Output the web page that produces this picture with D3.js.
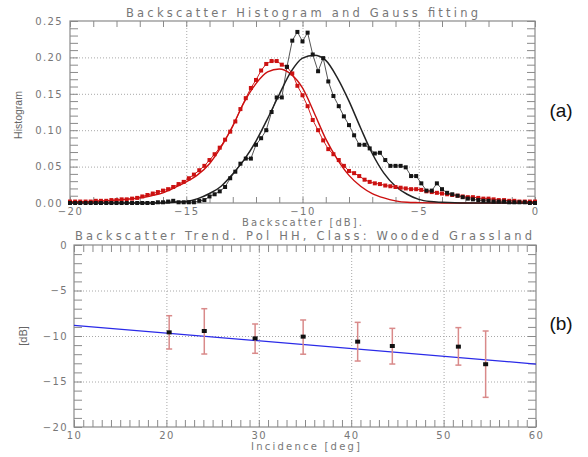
<!DOCTYPE html>
<html><head><meta charset="utf-8">
<script src="https://cdn.jsdelivr.net/npm/d3@7"></script>
<style>body{margin:0;background:#fff}</style>
</head><body><svg id="c" width="588" height="457"></svg>
<script>
// ---------- Panel (a): histogram data ----------
const binCenters = [-20.00,-19.78,-19.56,-19.33,-19.11,-18.89,-18.67,-18.44,-18.22,-18.00,
 -17.78,-17.56,-17.33,-17.11,-16.89,-16.67,-16.44,-16.22,-16.00,-15.78,
 -15.56,-15.33,-15.11,-14.89,-14.67,-14.44,-14.22,-14.00,-13.78,-13.56,
 -13.33,-13.11,-12.89,-12.67,-12.44,-12.22,-12.00,-11.78,-11.56,-11.33,
 -11.11,-10.89,-10.67,-10.44,-10.22,-10.00,-9.78,-9.56,-9.33,-9.11,
 -8.89,-8.67,-8.44,-8.22,-8.00,-7.78,-7.56,-7.33,-7.11,-6.89,
 -6.67,-6.44,-6.22,-6.00,-5.78,-5.56,-5.33,-5.11,-4.89,-4.67,
 -4.44,-4.22,-4.00,-3.78,-3.56,-3.33,-3.11,-2.89,-2.67,-2.44,
 -2.22,-2.00,-1.78,-1.56,-1.33,-1.11,-0.89,-0.67,-0.44,-0.22,
 0.00];
const redHist = [0.002,0.002,0.002,0.002,0.002,0.003,0.003,0.003,0.004,0.004,
 0.005,0.005,0.006,0.007,0.009,0.011,0.013,0.015,0.017,0.019,
 0.022,0.026,0.029,0.034,0.039,0.045,0.051,0.059,0.067,0.076,
 0.087,0.098,0.112,0.129,0.144,0.158,0.169,0.182,0.191,0.195,
 0.195,0.190,0.187,0.178,0.161,0.148,0.133,0.114,0.100,0.086,
 0.074,0.067,0.059,0.051,0.044,0.041,0.037,0.032,0.029,0.027,
 0.026,0.024,0.023,0.022,0.021,0.020,0.019,0.019,0.018,0.016,
 0.015,0.014,0.013,0.012,0.011,0.010,0.009,0.008,0.008,0.007,
 0.006,0.006,0.005,0.004,0.004,0.003,0.003,0.002,0.002,0.002,
 0.002];
const blackHist = [0,0,0,0,0,0,0,0,0,0,
 0,0,0,0,0,0,0,0.001,0.001,0.002,
 0.003,0.001,0.001,0.001,0.001,0.003,0.004,0.009,0.012,0.016,
 0.022,0.034,0.043,0.054,0.061,0.061,0.080,0.089,0.100,0.125,
 0.145,0.145,0.187,0.223,0.235,0.222,0.234,0.204,0.181,0.199,
 0.167,0.147,0.133,0.119,0.107,0.093,0.080,0.080,0.075,0.068,
 0.069,0.059,0.051,0.051,0.051,0.049,0.037,0.037,0.027,0.017,
 0.017,0.027,0.019,0.014,0.012,0.010,0.008,0.006,0.005,0.004,
 0.003,0.003,0.002,0.002,0.002,0.001,0.001,0.001,0.001,0.000,
 0.000];
// Gauss fitting curves
const fitX = [-20,-19,-18,-17,-16.5,-16,-15.5,-15,-14.5,-14,-13.5,-13,-12.5,-12,-11.5,-11,-10.5,-10,-9.5,-9,-8.5,-8,-7.5,-7,-6.5,-6,-5.5,-5,-4.5,-4,-3,-2,-1,0];
const redFit = [0.001,0.002,0.004,0.007,0.010,0.014,0.021,0.029,0.039,0.054,0.077,0.106,0.139,0.164,0.180,0.184,0.177,0.158,0.124,0.088,0.060,0.038,0.023,0.013,0.007,0.003,0.001,0.0005,0.0002,0.0001,0,0,0,0];
const blackFit = [0,0,0,0,0,0,0.001,0.002,0.006,0.013,0.023,0.040,0.060,0.085,0.116,0.149,0.180,0.199,0.203,0.196,0.172,0.140,0.103,0.068,0.041,0.023,0.012,0.005,0.002,0.001,0,0,0,0];
const histXTicks = [-20,-15,-10,-5,0];
const histYTicks = [0,0.05,0.10,0.15,0.20,0.25];

// ---------- Panel (b): trend data ----------
const incidence = [20.3,24.1,29.6,34.8,40.7,44.45,51.6,54.55];
const meanDb   = [-9.6,-9.45,-10.26,-10.07,-10.62,-11.1,-11.17,-13.1];
const errHigh  = [-7.77,-7.0,-8.68,-8.24,-8.5,-9.16,-9.08,-9.45];
const errLow   = [-11.43,-11.98,-11.9,-12.0,-12.75,-13.08,-13.2,-16.74];
const trendX = [10,60];
const trendY = [-8.83,-13.08];
const incXTicks = [10,20,30,40,50,60];
const dbYTicks = [0,-5,-10,-15,-20];

const svg = d3.select("#c");
svg.append("rect").attr("width",588).attr("height",457).attr("fill","#fff");

const AX = "#8a8a8a", GRID = "#a8a8a8", LBL = "#777";
const TF = "'DejaVu Sans', sans-serif";

function frame(x, y, cfg) {
  const g = svg.append("g");
  const [x0,x1] = x.range(), [y0,y1] = y.range();
  const W = x1-x0, H = y0-y1;
  const dx = x.domain(), dy = y.domain();
  // dotted grid at interior majors
  g.append("g").attr("transform",`translate(0,${y0})`)
    .call(d3.axisBottom(x).tickValues(cfg.xTicks.filter(t=>t!==dx[0]&&t!==dx[1])).tickSize(-H).tickFormat(""))
    .call(a=>a.select(".domain").remove())
    .selectAll("line").attr("stroke",GRID).attr("stroke-dasharray","1,2");
  g.append("g").attr("transform",`translate(${x0},0)`)
    .call(d3.axisLeft(y).tickValues(cfg.yTicks.filter(t=>t!==dy[0]&&t!==dy[1])).tickSize(-W).tickFormat(""))
    .call(a=>a.select(".domain").remove())
    .selectAll("line").attr("stroke",GRID).attr("stroke-dasharray","1,2");
  // minor inward ticks on all sides
  const mk = (axis, tr) => g.append("g").attr("transform",tr).call(axis)
      .call(a=>a.select(".domain").remove())
      .selectAll("line").attr("stroke",AX).attr("stroke-width",1);
  mk(d3.axisBottom(x).ticks(cfg.xMinor).tickSize(-cfg.xt).tickFormat(""), `translate(0,${y0})`);
  mk(d3.axisTop(x).ticks(cfg.xMinor).tickSize(-cfg.xt).tickFormat(""), `translate(0,${y1})`);
  mk(d3.axisLeft(y).ticks(cfg.yMinor).tickSize(-cfg.yt).tickFormat(""), `translate(${x0},0)`);
  mk(d3.axisRight(y).ticks(cfg.yMinor).tickSize(-cfg.yt).tickFormat(""), `translate(${x1},0)`);
  g.append("rect").attr("x",x0).attr("y",y1).attr("width",W).attr("height",H)
    .attr("fill","none").attr("stroke",AX).attr("stroke-width",1.2);
  // tick labels
  const lb = (sel) => sel.call(a=>a.select(".domain").remove())
    .selectAll("text").attr("fill",LBL).style("font-family",TF).style("font-size","10px").style("letter-spacing","1.4px");
  g.append("g").attr("transform",`translate(0,${y0})`)
    .call(d3.axisBottom(x).tickValues(cfg.xTicks).tickSize(0).tickPadding(cfg.xPad).tickFormat(cfg.xFmt)).call(lb);
  g.append("g").attr("transform",`translate(${x0},0)`)
    .call(d3.axisLeft(y).tickValues(cfg.yTicks).tickSize(0).tickPadding(cfg.yPad).tickFormat(cfg.yFmt)).call(lb);
  return g;
}

// ---------- Panel (a) ----------
const xA = d3.scaleLinear().domain([-20,0]).range([70,535]);
const yA = d3.scaleLinear().domain([0,0.25]).range([203,21]);
frame(xA, yA, {xTicks:histXTicks, yTicks:histYTicks, xMinor:20, yMinor:25, xt:6, yt:8,
  xPad:5, yPad:7, xFmt:d3.format("d"), yFmt:d3.format(".2f")});

const histLine = d3.line().x(d=>xA(d[0])).y(d=>yA(d[1]));
const redPts = binCenters.map((v,i)=>[v, redHist[i]]);
const blkPts = binCenters.map((v,i)=>[v, blackHist[i]]);
const gA = svg.append("g");
gA.append("path").datum(redPts).attr("d",histLine).attr("fill","none").attr("stroke","#d42020").attr("stroke-width",1);
gA.append("path").datum(blkPts).attr("d",histLine).attr("fill","none").attr("stroke","#555").attr("stroke-width",1);
const fitLine = d3.line().curve(d3.curveMonotoneX).x(d=>xA(d[0])).y(d=>yA(d[1]));
gA.append("path").datum(fitX.map((v,i)=>[v, redFit[i]])).attr("d",fitLine).attr("fill","none").attr("stroke","#cc1010").attr("stroke-width",1.4);
gA.append("path").datum(fitX.map((v,i)=>[v, blackFit[i]])).attr("d",fitLine).attr("fill","none").attr("stroke","#222").attr("stroke-width",1.5);
gA.selectAll(".rm").data(redPts).join("rect").attr("x",d=>xA(d[0])-2).attr("y",d=>yA(d[1])-2)
  .attr("width",4).attr("height",4).attr("fill","#cc1111");
gA.selectAll(".bm").data(blkPts).join("rect").attr("x",d=>xA(d[0])-2).attr("y",d=>yA(d[1])-2)
  .attr("width",4).attr("height",4).attr("fill","#151515");

svg.append("text").attr("x",302).attr("y",16.5).attr("text-anchor","middle")
  .attr("textLength",352).attr("lengthAdjust","spacing")
  .style("font-family",TF).style("font-size","11.5px").attr("fill",LBL)
  .text("Backscatter Histogram and Gauss fitting");
svg.append("text").attr("x",302).attr("y",226).attr("text-anchor","middle")
  .attr("textLength",120).attr("lengthAdjust","spacing")
  .style("font-family",TF).style("font-size","10px").attr("fill",LBL)
  .text("Backscatter [dB].");
svg.append("text").attr("transform","translate(22,115) rotate(-90)").attr("text-anchor","middle")
  .style("font-family","'Liberation Sans', Arial, sans-serif").style("font-size","10.5px").attr("fill","#666")
  .text("Histogram");
svg.append("text").attr("x",561).attr("y",117).attr("text-anchor","middle")
  .style("font-family","'Liberation Sans', Arial, sans-serif").style("font-size","19px").attr("fill","#111")
  .text("(a)");

// ---------- Panel (b) ----------
const xB = d3.scaleLinear().domain([10,60]).range([74,536]);
const yB = d3.scaleLinear().domain([-20,0]).range([427,245]);
frame(xB, yB, {xTicks:incXTicks, yTicks:dbYTicks, xMinor:50, yMinor:20, xt:7, yt:8,
  xPad:5, yPad:6, xFmt:d3.format("d"), yFmt:d3.format("d")});

const gB = svg.append("g");
gB.append("path").datum(trendX.map((v,i)=>[v,trendY[i]]))
  .attr("d", d3.line().x(d=>xB(d[0])).y(d=>yB(d[1])))
  .attr("fill","none").attr("stroke","#2a2ae8").attr("stroke-width",1.3);
const pts = incidence.map((v,i)=>({x:v, m:meanDb[i], hi:errHigh[i], lo:errLow[i]}));
const eb = gB.selectAll(".eb").data(pts).join("g").attr("stroke","#d98a8a").attr("stroke-width",1.5);
eb.append("line").attr("x1",d=>xB(d.x)).attr("x2",d=>xB(d.x)).attr("y1",d=>yB(d.hi)).attr("y2",d=>yB(d.lo));
eb.append("line").attr("x1",d=>xB(d.x)-3).attr("x2",d=>xB(d.x)+3).attr("y1",d=>yB(d.hi)).attr("y2",d=>yB(d.hi));
eb.append("line").attr("x1",d=>xB(d.x)-3).attr("x2",d=>xB(d.x)+3).attr("y1",d=>yB(d.lo)).attr("y2",d=>yB(d.lo));
gB.selectAll(".pm").data(pts).join("rect").attr("x",d=>xB(d.x)-2.5).attr("y",d=>yB(d.m)-2)
  .attr("width",5).attr("height",4).attr("fill","#111");

svg.append("text").attr("x",303.5).attr("y",239.5).attr("text-anchor","middle")
  .attr("textLength",457).attr("lengthAdjust","spacing")
  .style("font-family",TF).style("font-size","11.5px").attr("fill",LBL)
  .text("Backscatter Trend. Pol HH, Class: Wooded Grassland");
svg.append("text").attr("x",305.5).attr("y",450).attr("text-anchor","middle")
  .attr("textLength",109).attr("lengthAdjust","spacing")
  .style("font-family",TF).style("font-size","10px").attr("fill",LBL)
  .text("Incidence [deg]");
svg.append("text").attr("transform","translate(27,336) rotate(-90)").attr("text-anchor","middle")
  .style("font-family","'Liberation Sans', Arial, sans-serif").style("font-size","11px").attr("fill","#666")
  .text("[dB]");
svg.append("text").attr("x",561).attr("y",330).attr("text-anchor","middle")
  .style("font-family","'Liberation Sans', Arial, sans-serif").style("font-size","19px").attr("fill","#111")
  .text("(b)");
</script></body></html>
